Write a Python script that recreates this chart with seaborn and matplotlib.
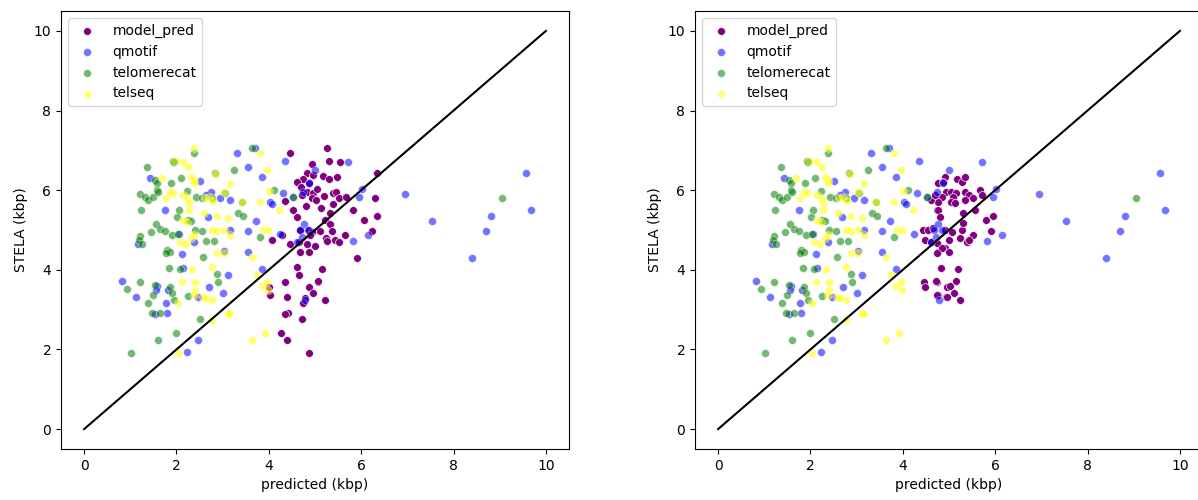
import matplotlib

matplotlib.use("Agg")
import matplotlib.pyplot as plt
import numpy as np
import pandas as pd
import seaborn as sns

# model predictions vs STELA, first model (left panel)
model_a_pred = [
    4.46, 4.93, 4.82, 4.96, 4.75, 4.62, 4.70, 4.88, 4.83, 4.96, 4.94, 5.03,
    4.36, 4.53, 4.60, 4.68, 4.86, 4.93, 4.28, 4.06, 4.46, 4.66, 4.82, 4.87,
    4.68, 4.60, 4.65, 4.34, 4.87, 5.06, 4.01, 4.03, 4.40, 4.78, 4.75, 4.41,
    4.35, 4.71, 4.26, 4.40, 4.87,
    5.27, 5.31, 5.55, 5.18, 5.31, 5.47, 6.34, 5.39, 5.45, 5.51, 5.67, 5.39,
    5.20, 6.29, 5.82, 6.35, 6.07, 5.33, 5.22, 5.33, 5.11, 5.37, 6.24, 5.65,
    5.24, 5.25, 5.43, 5.51, 5.90, 5.16, 5.07, 4.96, 5.22,
    4.72, 5.05, 4.80, 5.12, 4.90, 5.00,
]
model_a_stela = [
    6.93, 6.65, 6.42, 6.38, 6.29, 6.21, 6.09, 6.17, 5.96, 5.94, 5.80, 5.76,
    5.73, 5.50, 5.32, 5.00, 5.00, 4.96, 4.87, 4.75, 4.66, 4.70, 4.66, 4.45,
    4.45, 4.08, 3.87, 3.70, 3.58, 3.70, 3.58, 3.37, 3.32, 3.28, 3.16, 2.92,
    2.89, 2.76, 2.42, 2.25, 1.92,
    7.05, 6.74, 6.70, 6.36, 6.28, 6.34, 6.42, 5.92, 5.96, 5.80, 5.84, 5.65,
    5.85, 5.80, 5.50, 5.35, 5.25, 5.42, 5.25, 5.15, 4.97, 4.97, 4.97, 4.87,
    4.79, 4.72, 4.75, 4.69, 4.30, 4.01, 3.72, 3.41, 3.24,
    5.88, 6.02, 5.60, 5.55, 4.88, 4.60,
]

# model predictions vs STELA, second model (right panel)
model_b_pred = [
    4.77, 4.94, 4.84, 4.77, 4.73, 4.44, 4.48, 4.62, 4.77, 4.91, 4.45, 4.48,
    4.73, 4.77, 4.93, 4.95, 4.55, 4.65,
    4.91, 5.17, 5.28, 5.35, 4.86, 5.05, 5.16, 5.09, 5.05, 5.12, 4.62, 4.70,
    5.35, 5.44, 5.35, 5.53, 5.67, 5.71, 5.56, 5.31, 4.77, 4.81, 5.80, 5.96,
    5.91, 4.91, 5.06, 5.28, 5.31, 5.53, 5.24, 5.38, 5.44, 4.73, 4.84, 4.99,
    4.73, 4.99, 5.20, 4.83, 4.72, 5.16, 5.02, 5.10, 4.73, 4.95, 5.24,
]
model_b_stela = [
    6.17, 5.96, 5.84, 5.71, 5.50, 5.00, 4.75, 4.71, 4.46, 4.54, 3.70, 3.58,
    3.70, 3.37, 3.32, 3.58, 5.00, 5.05,
    6.34, 6.27, 6.21, 6.34, 6.20, 5.96, 5.92, 5.84, 5.71, 5.68, 5.75, 5.88,
    5.96, 5.88, 5.75, 5.80, 6.00, 5.88, 5.50, 5.42, 5.50, 5.33, 5.25, 5.35,
    4.98, 5.00, 4.96, 5.00, 5.17, 4.87, 4.79, 4.71, 4.75, 4.67, 4.54, 4.46,
    4.41, 4.75, 4.01, 4.05, 3.72, 3.72, 3.59, 3.41, 3.37, 3.32, 3.24,
]

# other tools (same in both panels)
qmotif_pred = [
    3.69, 3.32, 4.34, 3.56, 3.85, 1.43, 2.52, 2.75, 2.63, 2.94, 3.15, 4.03,
    4.06, 4.30, 4.53, 4.75, 5.00, 1.75, 2.68, 3.72, 3.16, 3.56, 4.24, 2.06,
    2.38, 1.16, 2.11, 3.02, 3.54, 2.15, 3.85, 3.11, 0.83, 1.13, 1.57, 1.56,
    1.81, 1.77, 2.71, 3.00, 2.47, 1.80, 1.54, 2.47, 2.22, 4.77, 4.68, 4.84,
    4.71, 4.62, 4.78, 5.71, 4.88, 5.96, 6.02, 6.95, 7.54, 9.57, 9.68, 8.81,
    8.70, 8.39, 6.15, 5.82,
]
qmotif_stela = [
    7.05, 6.93, 6.74, 6.57, 6.34, 6.30, 6.24, 5.96, 5.88, 5.80, 5.75, 5.71,
    5.65, 5.93, 5.84, 5.96, 6.50, 5.50, 5.32, 5.23, 5.00, 4.98, 4.91, 4.90,
    4.70, 4.66, 4.40, 4.48, 4.46, 4.05, 4.01, 3.87, 3.72, 3.32, 3.60, 3.50,
    3.49, 3.16, 3.58, 3.43, 3.32, 2.92, 2.89, 2.25, 1.93, 5.15, 5.00, 5.00,
    4.82, 4.71, 3.24, 6.70, 6.19, 5.84, 6.02, 5.90, 5.23, 6.42, 5.50, 5.35,
    4.97, 4.30, 4.87, 4.72,
]

telomerecat_pred = [
    1.37, 1.93, 1.95, 2.39, 3.64, 3.25, 2.84, 1.53, 1.58, 1.57, 1.21, 1.32,
    1.39, 1.49, 1.59, 1.23, 1.88, 2.09, 2.23, 2.42, 2.55, 2.76, 3.05, 3.43,
    4.11, 4.53, 2.06, 2.02, 2.24, 2.32, 3.34, 3.45, 1.55, 1.64, 1.44, 1.21,
    1.18, 1.25, 1.75, 1.90, 2.04, 2.40, 2.55, 2.63, 2.82, 3.80, 1.79, 1.85,
    1.78, 2.57, 1.83, 2.08, 2.87, 2.91, 1.21, 0.92, 1.54, 1.50, 1.39, 1.46,
    1.64, 1.85, 1.90, 1.95, 2.26, 2.51, 1.60, 1.98, 1.01, 9.05,
]
telomerecat_stela = [
    6.57, 6.74, 6.70, 6.93, 7.05, 6.51, 6.42, 6.25, 6.19, 6.00, 5.90, 5.83,
    5.75, 5.83, 5.96, 5.50, 6.19, 6.30, 5.98, 5.84, 5.81, 5.80, 5.92, 5.71,
    6.00, 5.84, 5.50, 5.32, 5.25, 5.23, 5.42, 5.35, 5.14, 5.02, 4.94, 4.85,
    4.75, 4.65, 4.98, 4.87, 4.90, 5.01, 4.98, 4.73, 4.72, 4.82, 4.50, 4.45,
    4.41, 4.31, 4.05, 4.01, 3.90, 3.70, 3.70, 3.51, 3.61, 3.37, 3.16, 2.91,
    2.92, 3.57, 3.41, 3.23, 3.35, 2.76, 2.25, 2.42, 1.92, 5.80,
]

telseq_pred = [
    2.37, 3.80, 1.97, 2.15, 2.26, 3.95, 1.68, 2.31, 2.37, 2.38, 3.16, 2.85,
    1.85, 1.78, 1.93, 2.14, 2.22, 2.28, 2.28, 2.62, 2.71, 2.80, 3.04, 3.41,
    3.80, 4.00, 4.23, 2.60, 2.87, 3.11, 2.14, 2.22, 2.76, 2.87, 3.02, 3.16,
    2.08, 2.21, 2.32, 2.37, 3.88, 3.99, 2.87, 3.02, 3.64, 2.34, 2.76, 3.74,
    2.11, 2.40, 2.40, 2.37, 2.58, 2.65, 2.78, 3.85, 3.97, 3.99, 2.04, 3.12,
    3.14, 2.76, 3.92, 3.63, 2.04,
]
telseq_stela = [
    7.05, 6.93, 6.74, 6.70, 6.57, 6.51, 6.31, 6.34, 6.26, 6.17, 6.15, 6.40,
    5.96, 5.80, 5.94, 5.88, 5.80, 5.67, 5.50, 5.80, 5.82, 5.73, 5.96, 5.71,
    5.71, 5.98, 5.50, 5.42, 5.35, 5.31, 5.25, 5.21, 5.00, 4.98, 5.00, 4.87,
    4.70, 4.66, 4.79, 4.87, 4.99, 5.00, 4.43, 4.41, 4.31, 4.01, 4.06, 3.87,
    3.70, 3.70, 3.50, 3.37, 3.32, 3.30, 3.23, 3.60, 3.70, 3.49, 3.16, 2.92,
    2.88, 2.75, 2.42, 2.25, 1.92,
]

# diagonal y = x reference
diag = [0, 10]

tools = [
    ("qmotif", qmotif_pred, qmotif_stela, "blue"),
    ("telomerecat", telomerecat_pred, telomerecat_stela, "green"),
    ("telseq", telseq_pred, telseq_stela, "yellow"),
]

fig = plt.figure(figsize=(11.98, 5.0), dpi=100)
ax1 = fig.add_axes([61 / 1198, 51 / 500, 508 / 1198, 438 / 500])
ax2 = fig.add_axes([695 / 1198, 51 / 500, 508 / 1198, 438 / 500])

for ax, mx, my in [(ax1, model_a_pred, model_a_stela), (ax2, model_b_pred, model_b_stela)]:
    sns.scatterplot(x=mx, y=my, color="purple", s=32, label="model_pred", ax=ax)
    for name, px, py, col in tools:
        sns.scatterplot(x=px, y=py, color=col, alpha=0.55, s=32, label=name, ax=ax)
    ax.plot(diag, diag, color="black", linewidth=1.5)
    ax.set_xlim(-0.5, 10.5)
    ax.set_ylim(-0.5, 10.5)
    ax.set_xticks([0, 2, 4, 6, 8, 10])
    ax.set_yticks([0, 2, 4, 6, 8, 10])
    ax.set_xlabel("predicted (kbp)")
    ax.set_ylabel("STELA (kbp)")
    ax.legend(loc="upper left")

plt.savefig("out.png", dpi=100)
plt.close()
